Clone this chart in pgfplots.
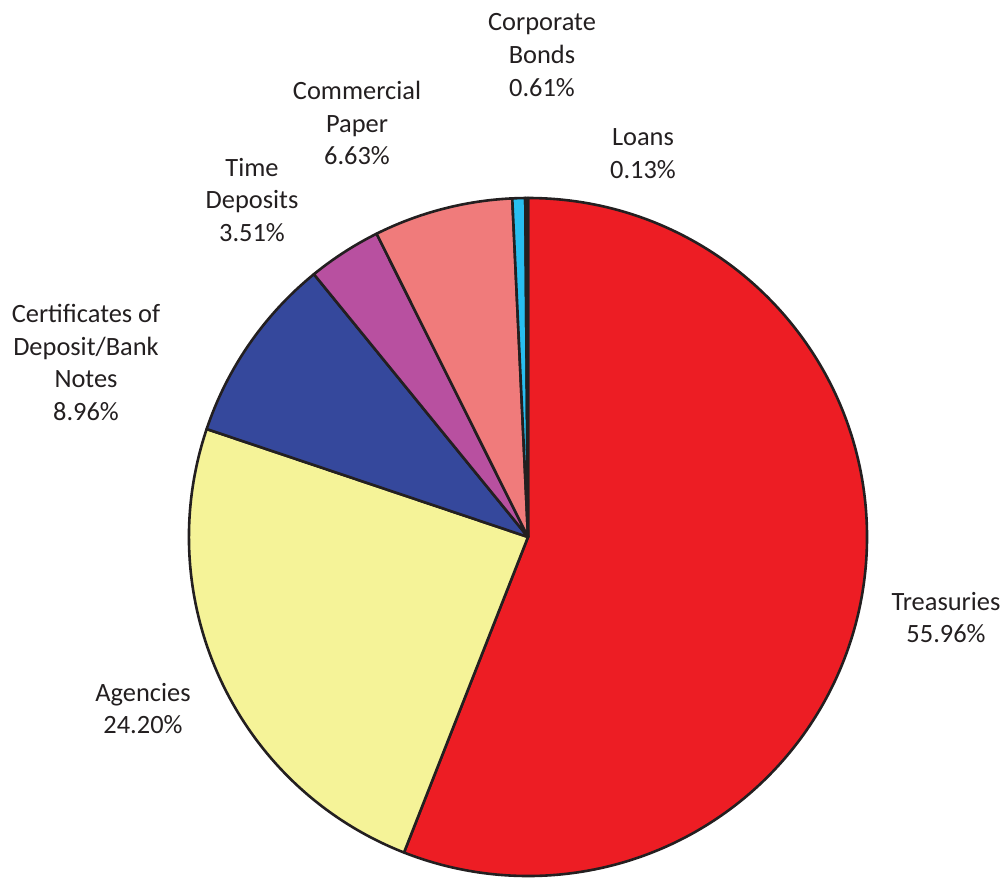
\documentclass[border=0pt]{standalone}
\usepackage{pgfplots}
\usepackage{pgfplotstable}
\usepackage{fontspec}
\setmainfont{Carlito}
\pgfplotsset{compat=1.18}
\definecolor{cTreas}{RGB}{237,29,36}
\definecolor{cAgen}{RGB}{245,243,152}
\definecolor{cCD}{RGB}{53,72,156}
\definecolor{cTD}{RGB}{184,80,160}
\definecolor{cCP}{RGB}{240,123,123}
\definecolor{cCB}{RGB}{40,190,240}
\definecolor{cLoan}{RGB}{30,40,90}
\definecolor{edgecol}{RGB}{35,31,32}
\definecolor{txt}{RGB}{35,31,32}

% share of each holding, clockwise from 12 o'clock
\pgfplotstableread{
value color
55.96 cTreas
24.20 cAgen
8.96 cCD
3.51 cTD
6.63 cCP
0.61 cCB
0.13 cLoan
}\pietable

\begin{document}
\begin{tikzpicture}
\begin{axis}[
    hide axis,
    scale only axis,
    width=1007bp, height=878bp,
    xmin=-528, xmax=479,
    ymin=-341, ymax=537,
    clip=false,
]
\path (axis cs:-528,-341) rectangle (axis cs:479,537);

\pgfplotstablegetrowsof{\pietable}
\pgfmathtruncatemacro\nrows{\pgfplotsretval-1}
\def\startang{90}
\pgfplotsforeachungrouped \i in {0,...,\nrows}{%
  \pgfplotstablegetelem{\i}{value}\of\pietable \let\val\pgfplotsretval
  \pgfplotstablegetelem{\i}{color}\of\pietable \let\col\pgfplotsretval
  \pgfmathsetmacro\endang{\startang-3.6*\val}
  \edef\temp{\noexpand\draw[fill=\col, draw=edgecol, line width=2.6bp, line join=round]
    (axis cs:0,0) -- ++(\startang:339bp) arc[start angle=\startang, end angle=\endang, radius=339bp] -- cycle;}
  \temp
  \let\startang\endang
}

\tikzset{lbl/.style={align=center, text=txt, font=\fontsize{26.5}{33}\selectfont, inner sep=0pt}}
\node[lbl] at (axis cs:14,482) {Corporate\\Bonds\\0.61\%};
\node[lbl] at (axis cs:115,383.5) {Loans\\0.13\%};
\node[lbl] at (axis cs:-171,414) {Commercial\\Paper\\6.63\%};
\node[lbl] at (axis cs:-276,337) {Time\\Deposits\\3.51\%};
\node[lbl] at (axis cs:-442,174.5) {Certificates of\\Deposit/Bank\\Notes\\8.96\%};
\node[lbl] at (axis cs:418,-80.5) {Treasuries\\55.96\%};
\node[lbl] at (axis cs:-385,-171.5) {Agencies\\24.20\%};
\end{axis}
\end{tikzpicture}
\end{document}
